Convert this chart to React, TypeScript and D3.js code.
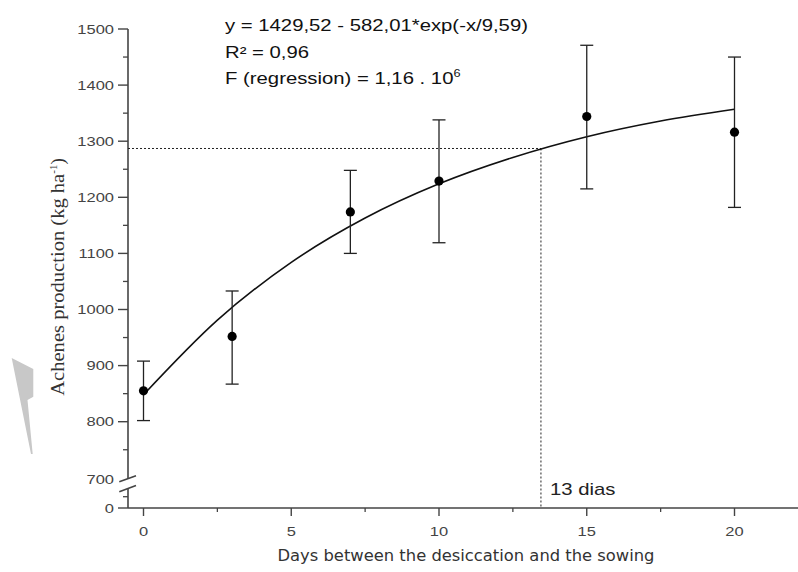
import { scaleLinear, line, curveMonotoneX } from "d3"
import type { ReactNode } from "react"

const days = [0, 3, 7, 10, 15, 20]
const means = [855, 952, 1174, 1229, 1344, 1316]
const lowers = [802, 867, 1100, 1119, 1215, 1182]
const uppers = [908, 1033, 1248, 1338, 1471, 1450]

// points
const fitDays = [0, 2.5, 5, 7.5, 10, 12.5, 15, 17.5, 20]
const fitValues = [848, 981, 1084, 1163, 1224, 1271, 1308, 1336, 1357]

const optimumDay = 13.45
const optimumValue = 1287

const xTicks = [0, 5, 10, 15, 20]
const xMinor = [2.5, 7.5, 12.5, 17.5]
const yTicks = [800, 900, 1000, 1100, 1200, 1300, 1400, 1500]
const yMinor = [750, 850, 950, 1050, 1150, 1250, 1350, 1450]

const eqLines = ["y = 1429,52 - 582,01*exp(-x/9,59)", "R² = 0,96"]

const sans = "Arial, 'Liberation Sans', sans-serif"
const STRETCH = 1.27

// the original picture is stretched sideways, so is its lettering
function Wide({ x, y, anchor = "start", size, fill = "#222", children }: {
  x: number; y: number; anchor?: string; size: number; fill?: string; children: ReactNode
}) {
  return (
    <g transform={`translate(${x},${y}) scale(${STRETCH},1)`}>
      <text textAnchor={anchor} fontSize={size} fill={fill} fontFamily={sans}>
        {children}
      </text>
    </g>
  )
}

function App() {
  const width = 798
  const height = 572
  const axisX = 128
  const axisY = 508

  const x = scaleLinear().domain([0, 20]).range([143.5, 734.5])
  const y = scaleLinear().domain([700, 1500]).range([477.8, 29])
  const yLow = scaleLinear().domain([0, 100]).range([508, 485.4])

  const fitPath = line<number>()
    .x((_, i) => x(fitDays[i]))
    .y((d) => y(d))
    .curve(curveMonotoneX)(fitValues)

  const axisColor = "#444"

  return (
    <svg
      width={width}
      height={height}
      viewBox={`0 0 ${width} ${height}`}
      style={{ position: "absolute", left: 0, top: 0, background: "#fff" }}
    >
      <rect x={0} y={0} width={width} height={height} fill="#fff" />

      {/* grey mark on the left */}
      <polygon
        points="11.7,358 33.3,369 33.3,396.7 27.5,400 32.7,454 31,454"
        fill="#c8c8c8"
      />

      {/* y axis */}
      <line x1={axisX} x2={axisX} y1={29} y2={479} stroke={axisColor} strokeWidth={1.6} />
      <line x1={axisX} x2={axisX} y1={488} y2={axisY} stroke={axisColor} strokeWidth={1.6} />
      <line x1={119.3} y1={481.7} x2={136} y2={475.7} stroke={axisColor} strokeWidth={1.6} />
      <line x1={119.3} y1={491.7} x2={136} y2={485.4} stroke={axisColor} strokeWidth={1.6} />
      {yTicks.map((t) => (
        <g key={t}>
          <line x1={axisX - 10} x2={axisX} y1={y(t)} y2={y(t)} stroke={axisColor} strokeWidth={1.4} />
          <Wide x={114} y={y(t) + 4.6} anchor="end" size={13} fill="#444">{t}</Wide>
        </g>
      ))}
      {yMinor.map((t) => (
        <line key={t} x1={axisX - 5} x2={axisX} y1={y(t)} y2={y(t)} stroke={axisColor} strokeWidth={1.3} />
      ))}
      <Wide x={114} y={y(700) + 6} anchor="end" size={13} fill="#444">700</Wide>
      <line x1={axisX - 10} x2={axisX} y1={yLow(0)} y2={yLow(0)} stroke={axisColor} strokeWidth={1.4} />
      <line x1={axisX - 5} x2={axisX} y1={yLow(50)} y2={yLow(50)} stroke={axisColor} strokeWidth={1.3} />
      <Wide x={114} y={yLow(0) + 4.6} anchor="end" size={13} fill="#444">0</Wide>

      {/* x axis */}
      <line x1={axisX} x2={width} y1={axisY} y2={axisY} stroke={axisColor} strokeWidth={1.6} />
      {xTicks.map((t) => (
        <g key={t}>
          <line x1={x(t)} x2={x(t)} y1={axisY} y2={axisY + 8} stroke={axisColor} strokeWidth={1.4} />
          <Wide x={x(t)} y={536} anchor="middle" size={13} fill="#444">{t}</Wide>
        </g>
      ))}
      {xMinor.map((t) => (
        <line key={t} x1={x(t)} x2={x(t)} y1={axisY} y2={axisY + 4} stroke={axisColor} strokeWidth={1.3} />
      ))}

      {/* optimum guide lines */}
      <line
        x1={axisX}
        x2={x(optimumDay)}
        y1={y(optimumValue)}
        y2={y(optimumValue)}
        stroke="#222"
        strokeWidth={1}
        strokeDasharray="2,2"
      />
      <line
        x1={x(optimumDay)}
        x2={x(optimumDay)}
        y1={y(optimumValue)}
        y2={axisY}
        stroke="#222"
        strokeWidth={1}
        strokeDasharray="2,2"
      />
      <Wide x={550} y={495} size={16}>13 dias</Wide>

      {/* fitted curve */}
      <path d={fitPath ?? ""} fill="none" stroke="#111" strokeWidth={1.6} />

      {/* error bars and means */}
      {days.map((d, i) => {
        const cx = x(d)
        return (
          <g key={d}>
            <line x1={cx} x2={cx} y1={y(lowers[i])} y2={y(uppers[i])} stroke="#222" strokeWidth={1.3} />
            <line x1={cx - 6.5} x2={cx + 6.5} y1={y(lowers[i])} y2={y(lowers[i])} stroke="#222" strokeWidth={1.3} />
            <line x1={cx - 6.5} x2={cx + 6.5} y1={y(uppers[i])} y2={y(uppers[i])} stroke="#222" strokeWidth={1.3} />
            <circle cx={cx} cy={y(means[i])} r={4.6} fill="#000" />
          </g>
        )
      })}

      {/* equation */}
      {eqLines.map((s, i) => (
        <Wide key={i} x={225} y={31 + i * 26.5} size={16} fill="#111">{s}</Wide>
      ))}
      <Wide x={225} y={84} size={16} fill="#111">
        F (regression) = 1,16 . 10
        <tspan dy={-7} fontSize={10}>6</tspan>
      </Wide>

      {/* axis titles */}
      <text
        x={466}
        y={561}
        textAnchor="middle"
        fontSize={15.5}
        fill="#333"
        textLength={377}
        lengthAdjust="spacingAndGlyphs"
        fontFamily="'DejaVu Sans', Verdana, sans-serif"
      >
        Days between the desiccation and the sowing
      </text>
      <text
        transform={`translate(64, 277) rotate(-90)`}
        textAnchor="middle"
        fontSize={19}
        fill="#333"
        fontFamily="'Liberation Serif', 'Times New Roman', serif"
      >
        <tspan textLength={222} lengthAdjust="spacingAndGlyphs">Achenes production (kg ha</tspan>
        <tspan dy={-7} fontSize={11}>-1</tspan>
        <tspan dy={7}>)</tspan>
      </text>
    </svg>
  )
}

export default App
